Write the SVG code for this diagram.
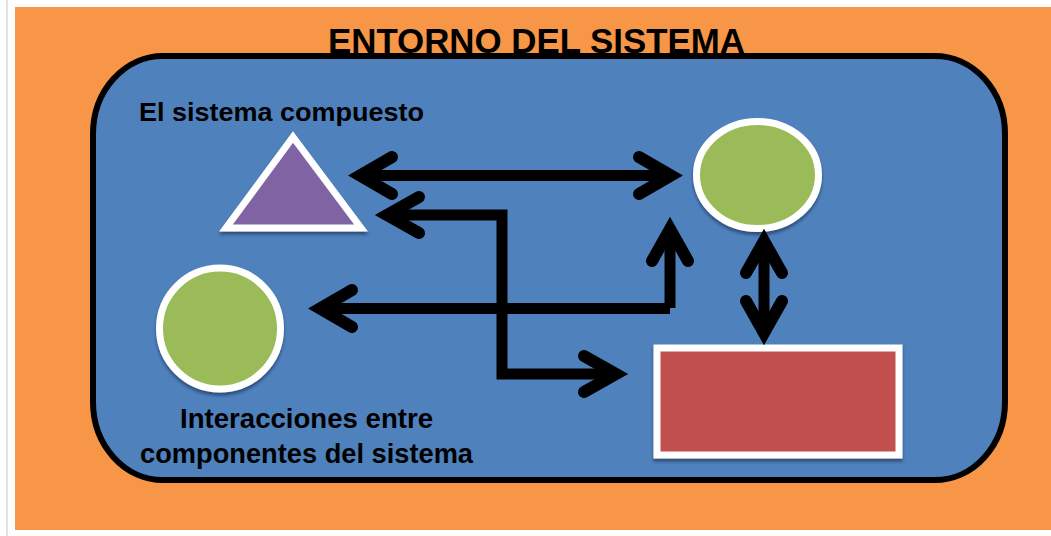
<svg xmlns="http://www.w3.org/2000/svg" width="1051" height="536" viewBox="0 0 1051 536">
  <defs>
    <style>
      .lbl { font-family: "Liberation Sans", Arial, sans-serif; font-weight: bold; fill: #000; }
      .shape { stroke: #fff; stroke-width: 7; filter: url(#shadow); }
      .ln { fill: none; stroke: #000; stroke-width: 11; stroke-linejoin: miter; stroke-linecap: butt; }
      .hd { fill: none; stroke: #000; stroke-width: 12; stroke-linejoin: miter; stroke-miterlimit: 6; stroke-linecap: round; }
    </style>
    <filter id="shadow" x="-20%" y="-20%" width="140%" height="150%">
      <feDropShadow dx="0" dy="3" stdDeviation="1.5" flood-color="#10243c" flood-opacity="0.55"/>
    </filter>
  </defs>

  <rect x="0" y="0" width="1051" height="536" fill="#fff"/>
  <line x1="7" y1="0" x2="7" y2="536" stroke="#d9d9d9" stroke-width="1.5"/>

  <g id="environment">
    <rect x="15" y="7" width="1036" height="523" fill="#F79646"/>
    <rect x="93" y="56" width="912" height="424" rx="70" ry="78" fill="#4F81BD" stroke="#000" stroke-width="6"/>
    <text class="lbl" x="328" y="53" font-size="35" textLength="417" lengthAdjust="spacingAndGlyphs">ENTORNO DEL SISTEMA</text>
  </g>

  <g id="label-compuesto">
    <text class="lbl" x="139" y="121" font-size="26" textLength="285" lengthAdjust="spacingAndGlyphs">El sistema compuesto</text>
  </g>

  <g id="label-interacciones">
    <text class="lbl" x="180" y="428" font-size="27.5" textLength="253" lengthAdjust="spacingAndGlyphs">Interacciones entre</text>
    <text class="lbl" x="140" y="463" font-size="27.5" textLength="333" lengthAdjust="spacingAndGlyphs">componentes del sistema</text>
  </g>

  <g id="triangle">
    <polygon class="shape" points="293,137 226,228 361,228" fill="#8064A2" stroke-width="8"/>
  </g>

  <g id="circle-top">
    <ellipse class="shape" cx="757.5" cy="175" rx="61" ry="53.5" fill="#9BBB59"/>
  </g>

  <g id="circle-left">
    <circle class="shape" cx="220" cy="328.5" r="60.5" fill="#9BBB59"/>
  </g>

  <g id="rectangle">
    <rect class="shape" x="657" y="348" width="242" height="107" fill="#C0504D" stroke-width="8"/>
  </g>

  <g id="connectors">
    <!-- double arrow triangle <-> top circle -->
    <line class="ln" x1="362" y1="175.5" x2="670" y2="175.5" stroke-width="12"/>
    <polyline class="hd" points="392,157 360,175.5 392,194"/>
    <polyline class="hd" points="639,157 671,175.5 639,194"/>

    <!-- path to triangle and rectangle -->
    <polyline class="ln" points="388,215 502,215 502,374 615,374"/>
    <polyline class="hd" points="419,197 387,215 419,233"/>
    <polyline class="hd" points="584,356 616,374 584,392"/>

    <!-- path to left circle and top circle -->
    <line class="ln" x1="321" y1="308.5" x2="670" y2="308.5"/>
    <line class="ln" x1="670" y1="308" x2="670" y2="230"/>
    <polyline class="hd" points="352,290 320,308.5 352,327"/>
    <polyline class="hd" points="652,261 670,229 688,261"/>

    <!-- vertical double arrow top circle <-> rectangle -->
    <line class="ln" x1="764" y1="242" x2="764" y2="332" stroke-width="10"/>
    <polyline class="hd" points="746,273 764,241 782,273"/>
    <polyline class="hd" points="746,301 764,333 782,301"/>
  </g>
</svg>
